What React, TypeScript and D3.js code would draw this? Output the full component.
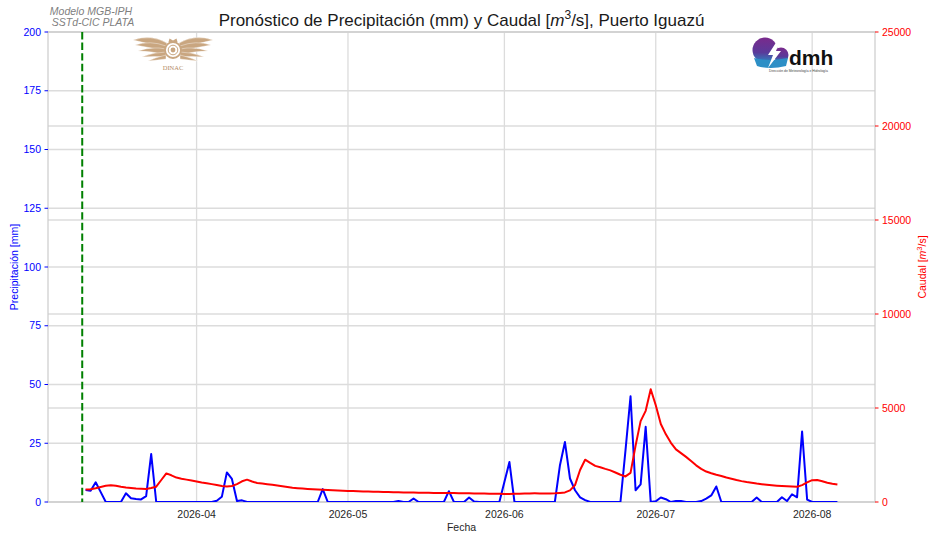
import React from 'react';
import * as d3 from 'd3';

// daily series, first day 2026-03-10
const START_DATE = new Date(2026, 2, 10);
// forecast issue date (green dashed line)
const FORECAST_DATE = new Date(2026, 2, 9, 8);

// Precipitación [mm]
const PRECIP_MAR = [5.1, 4.8, 8.4, 4.2, 0, 0, 0, 0, 3.7, 1.6, 1.3, 1.1, 2.5, 20.4, 0, 0, 0, 0, 0, 0, 0, 0];
const PRECIP_APR = [0, 0, 0, 0, 0.5, 2.2, 12.6, 9.8, 0.4, 0.7, 0, 0, 0, 0, 0, 0, 0, 0, 0, 0, 0, 0, 0, 0, 0, 5.5, 0, 0, 0, 0];
const PRECIP_MAY = [0, 0, 0, 0, 0, 0, 0, 0, 0, 0, 0.4, 0, 0, 1.5, 0, 0, 0, 0, 0, 0, 4.6, 0, 0, 0, 1.9, 0.2, 0, 0, 0, 0, 0];
const PRECIP_JUN = [8.5, 17, 0, 0, 0, 0, 0, 0, 0, 0, 0, 15.5, 25.5, 10, 5, 2, 0.8, 0, 0, 0, 0, 0, 0, 0, 22, 45, 5, 7.5, 32, 0];
const PRECIP_JUL = [0.3, 1.9, 1.2, 0, 0.4, 0.4, 0, 0, 0, 0.4, 1.4, 2.8, 6.6, 0, 0, 0, 0, 0, 0, 0, 1.9, 0, 0, 0, 0, 2, 0.4, 3.3, 2, 30, 1];
const PRECIP_AUG = [0, 0, 0, 0, 0, 0];

// Caudal [m3/s]
const CAUDAL_MAR = [660, 680, 730, 800, 860, 890, 860, 810, 770, 740, 715, 700, 690, 740, 815, 1170, 1520, 1420, 1300, 1240, 1190, 1140];
const CAUDAL_APR = [1090, 1040, 1000, 950, 900, 850, 830, 850, 950, 1100, 1190, 1090, 1010, 980, 950, 915, 880, 840, 800, 760, 735, 715, 695, 680, 665, 650, 635, 625, 615, 605];
const CAUDAL_MAY = [590, 580, 570, 560, 552, 545, 540, 535, 528, 520, 515, 510, 505, 500, 496, 492, 488, 485, 482, 479, 476, 473, 470, 466, 462, 458, 454, 448, 443, 438, 434];
const CAUDAL_JUN = [432, 432, 438, 445, 452, 458, 460, 458, 456, 456, 462, 485, 510, 620, 900, 1700, 2250, 2080, 1920, 1850, 1760, 1680, 1570, 1450, 1360, 1550, 3000, 4300, 4850, 6000];
const CAUDAL_JUL = [5150, 4150, 3600, 3150, 2800, 2600, 2400, 2180, 1950, 1760, 1620, 1530, 1450, 1380, 1300, 1240, 1170, 1110, 1060, 1020, 980, 950, 920, 895, 870, 850, 835, 825, 815, 900, 1040];
const CAUDAL_AUG = [1160, 1170, 1100, 1020, 970, 935];

const PRECIP = [...PRECIP_MAR, ...PRECIP_APR, ...PRECIP_MAY, ...PRECIP_JUN, ...PRECIP_JUL, ...PRECIP_AUG];
const CAUDAL = [...CAUDAL_MAR, ...CAUDAL_APR, ...CAUDAL_MAY, ...CAUDAL_JUN, ...CAUDAL_JUL, ...CAUDAL_AUG];

const PRECIP_TICKS = [0, 25, 50, 75, 100, 125, 150, 175, 200];
const CAUDAL_TICKS = [0, 5000, 10000, 15000, 20000, 25000];

const W = 929;
const H = 533;
const M = { left: 48, right: 875, top: 32, bottom: 502 };
const FONT = '"Liberation Sans", Arial, Helvetica, sans-serif';
const GRID = '#dcdcdc';

function DinacLogo() {
  const c = '#c9a680';
  // one wing, mirrored for the other side
  const feathers = [
    'M167 43 Q151 34 133 40 Q148 43 165 49 Z',
    'M166 46 Q150 40 135 45 Q150 47 165 52 Z',
    'M166 49 Q152 46 138 51 Q152 51 165 55 Z',
    'M166 52 Q154 52 142 57 Q155 56 166 57 Z',
    'M166 55 Q157 57 148 61 Q158 60 166 59 Z',
  ];
  return (
    <g>
      <g>{feathers.map((d, i) => <path key={i} d={d} fill={c} stroke="#fff" strokeWidth={0.4} />)}</g>
      <g transform="translate(346,0) scale(-1,1)">
        {feathers.map((d, i) => <path key={i} d={d} fill={c} stroke="#fff" strokeWidth={0.4} />)}
      </g>
      <circle cx={173} cy={50} r={8} fill="#fff" stroke={c} strokeWidth={1.8} />
      <circle cx={173} cy={50} r={4.8} fill="none" stroke={c} strokeWidth={1} />
      <circle cx={173} cy={50} r={2.4} fill={c} />
      <path d="M168.5 42 L169.5 38.5 L173 40.5 L176.5 38.5 L177.5 42 Z" fill={c} />
      <text x={173} y={70} textAnchor="middle" fontFamily='"Liberation Serif", "DejaVu Serif", serif' fontSize={6.5} fill="#b48c68">DINAC</text>
    </g>
  );
}

function DmhLogo() {
  return (
    <g>
      <defs>
        <linearGradient id="dmhGrad" x1="0" y1="0" x2="0" y2="1">
          <stop offset="0" stopColor="#7a2a8c" />
          <stop offset="0.6" stopColor="#5a3a9a" />
          <stop offset="1" stopColor="#2b86c2" />
        </linearGradient>
      </defs>
      <circle cx={765} cy={50} r={12.5} fill="url(#dmhGrad)" />
      <circle cx={781} cy={55} r={7.5} fill="url(#dmhGrad)" />
      <path d="M754 58 Q768 62 788 58 L786 66 Q770 70 757 66 Z" fill="#2d8fc6" />
      <path d="M777 41 L768 55 L773 55 L768 68 L781 51 L776 51 L780 41 Z" fill="#fff" />
      <text x={789} y={65} fontFamily={FONT} fontWeight="bold" fontSize={21} fill="#111">dmh</text>
      <text x={769} y={71.5} fontFamily={FONT} fontSize={3.4} fill="#444">Dirección de Meteorología e Hidrología</text>
    </g>
  );
}

export default function App() {
  const dates = PRECIP.map((_, i) => d3.timeDay.offset(START_DATE, i));
  const [d0, d1] = d3.extent(dates) as [Date, Date];
  const pad = (+d1 - +d0) * 0.05;
  const x = d3.scaleTime()
    .domain([new Date(+d0 - pad), new Date(+d1 + pad)])
    .range([M.left, M.right]);
  const yP = d3.scaleLinear().domain([0, 200]).range([M.bottom, M.top]);
  const yQ = d3.scaleLinear().domain([0, 25000]).range([M.bottom, M.top]);

  const precipLine = d3.line<number>().x((_, i) => x(dates[i])).y(d => yP(d));
  const caudalLine = d3.line<number>().x((_, i) => x(dates[i])).y(d => yQ(d));

  const monthTicks = x.ticks(d3.timeMonth.every(1) as d3.TimeInterval);
  const fmt = d3.timeFormat('%Y-%m');
  const fx = x(FORECAST_DATE);

  return (
    <svg width={W} height={H} style={{ position: 'absolute', left: 0, top: 0, background: '#fff' }} fontFamily={FONT}>
      <defs>
        <clipPath id="plotClip">
          <rect x={M.left} y={M.top} width={M.right - M.left} height={M.bottom - M.top} />
        </clipPath>
      </defs>
      <rect x={0} y={0} width={W} height={H} fill="#fff" />

      {/* grids */}
      {PRECIP_TICKS.map(t => (
        <line key={'gp' + t} x1={M.left} x2={M.right} y1={yP(t)} y2={yP(t)} stroke={GRID} strokeWidth={1.3} />
      ))}
      {CAUDAL_TICKS.map(t => (
        <line key={'gq' + t} x1={M.left} x2={M.right} y1={yQ(t)} y2={yQ(t)} stroke={GRID} strokeWidth={1.3} />
      ))}
      {monthTicks.map(t => (
        <line key={'gx' + t} x1={x(t)} x2={x(t)} y1={M.top} y2={M.bottom} stroke={GRID} strokeWidth={1.3} />
      ))}

      {/* frame */}
      <rect x={M.left} y={M.top} width={M.right - M.left} height={M.bottom - M.top} fill="none" stroke="#cccccc" strokeWidth={1.2} />

      <DinacLogo />
      <DmhLogo />

      {/* series */}
      <g clipPath="url(#plotClip)">
        <path d={precipLine(PRECIP) || ''} fill="none" stroke="#0000ff" strokeWidth={2} strokeLinejoin="round" />
        <path d={caudalLine(CAUDAL) || ''} fill="none" stroke="#ff0000" strokeWidth={2} strokeLinejoin="round" />
        <line x1={fx} x2={fx} y1={M.top} y2={M.bottom} stroke="#008000" strokeWidth={2} strokeDasharray="7.4 3.2" />
      </g>

      {/* left axis */}
      {PRECIP_TICKS.map(t => (
        <g key={'lp' + t}>
          <line x1={M.left - 3.5} x2={M.left} y1={yP(t)} y2={yP(t)} stroke="#0000ff" strokeWidth={1} />
          <text x={M.left - 7} y={yP(t)} dy="0.35em" textAnchor="end" fontSize={10.5} fill="#0000ff">{t}</text>
        </g>
      ))}
      <text transform={`translate(17.5,${(M.top + M.bottom) / 2}) rotate(-90)`} textAnchor="middle" fontSize={10.5} fill="#0000ff">Precipitación [mm]</text>

      {/* right axis */}
      {CAUDAL_TICKS.map(t => (
        <g key={'lq' + t}>
          <line x1={M.right} x2={M.right + 3.5} y1={yQ(t)} y2={yQ(t)} stroke="#ff0000" strokeWidth={1} />
          <text x={M.right + 7} y={yQ(t)} dy="0.35em" textAnchor="start" fontSize={10.5} fill="#ff0000">{t}</text>
        </g>
      ))}
      <text transform={`translate(926,${(M.top + M.bottom) / 2}) rotate(-90)`} textAnchor="middle" fontSize={10.5} fill="#ff0000">
        Caudal [<tspan fontStyle="italic">m</tspan><tspan dy={-4} fontSize={7.5}>3</tspan><tspan dy={4}>/s]</tspan>
      </text>

      {/* x axis */}
      {monthTicks.map(t => (
        <text key={'tx' + t} x={x(t)} y={518} textAnchor="middle" fontSize={10.5} fill="#262626">{fmt(t)}</text>
      ))}
      <text x={(M.left + M.right) / 2} y={531} textAnchor="middle" fontSize={10.5} fill="#262626">Fecha</text>

      {/* title and model note */}
      <text x={(M.left + M.right) / 2} y={26} textAnchor="middle" fontSize={17} fill="#1a1a1a">
        Pronóstico de Precipitación (mm) y Caudal [<tspan fontStyle="italic">m</tspan><tspan dy={-7} fontSize={12}>3</tspan><tspan dy={7}>/s], Puerto Iguazú</tspan>
      </text>
      <text x={91} y={14.5} textAnchor="middle" fontSize={10.5} fontStyle="italic" fill="#808080">Modelo MGB-IPH</text>
      <text x={93} y={25.5} textAnchor="middle" fontSize={10.5} fontStyle="italic" fill="#808080">SSTd-CIC PLATA</text>
    </svg>
  );
}
